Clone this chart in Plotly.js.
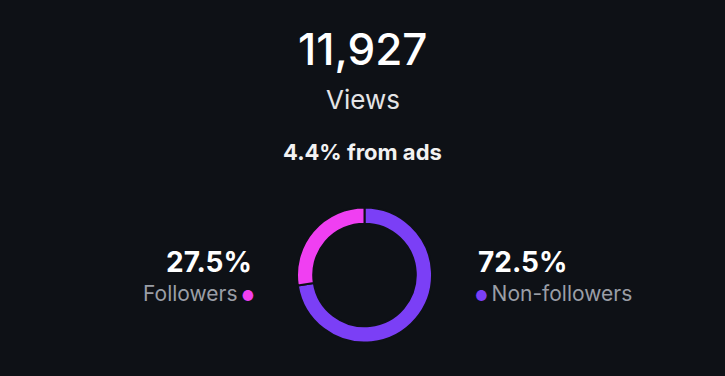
<!DOCTYPE html>
<html>
<head>
<meta charset="utf-8">
<script src="https://cdn.plot.ly/plotly-3.0.1.min.js"></script>
<style>html,body{margin:0;padding:0;background:#0e1116;}#chart{width:725px;height:376px;}</style>
</head>
<body>
<div id="chart"></div>
<script>
const categories = ["Followers", "Non-followers"];
const shares = [27.5, 72.5];
const sliceColors = ["#f03ff2", "#7b3ff6"];
const totalViews = "11,927";
const viewsLabel = "Views";
const adsNote = "4.4% from ads";

const W = 725, H = 376;
const px = x => x / W;
const py = y => 1 - y / H;

// drawn order: Non-followers first so Followers ends at 12 o'clock on the left side
const order = [1, 0];
const trace = {
  type: "pie",
  labels: order.map(i => categories[i]),
  values: order.map(i => shares[i]),
  sort: false,
  direction: "clockwise",
  hole: 0.76,
  textinfo: "none",
  hoverinfo: "label+percent",
  marker: {colors: order.map(i => sliceColors[i]), line: {color: "#0e1116", width: 2}},
  domain: {x: [px(297), px(432)], y: [py(343), py(207)]},
  showlegend: false
};

const font = "Inter, 'Noto Sans', sans-serif";
const annotations = [
  {text: totalViews, x: 0.5, y: py(49), font: {size: 44, color: "#ffffff", family: font, weight: 500}},
  {text: viewsLabel, x: 0.5, y: py(99), font: {size: 26, color: "#e4e4e6", family: font}},
  {text: "<b>" + adsNote + "</b>", x: 0.5, y: py(152), font: {size: 22, color: "#f2f2f2", family: font}},
  {text: "<b>" + shares[0].toFixed(1) + "%</b>", x: px(254), xanchor: "right", y: py(262), font: {size: 28, color: "#ffffff", family: font}},
  {text: categories[0] + "<span style='color:" + sliceColors[0] + ";font-size:14px'> ●</span>", x: px(256), xanchor: "right", y: py(293), font: {size: 21, color: "#9a9ea6", family: font}},
  {text: "<b>" + shares[1].toFixed(1) + "%</b>", x: px(476), xanchor: "left", y: py(262), font: {size: 28, color: "#ffffff", family: font}},
  {text: "<span style='color:" + sliceColors[1] + ";font-size:14px'>●</span>\u2009" + categories[1], x: px(473), xanchor: "left", y: py(293), font: {size: 21, color: "#9a9ea6", family: font}}
].map(a => Object.assign({xref: "paper", yref: "paper", showarrow: false, yanchor: "middle", xanchor: "center"}, a));

const layout = {
  width: W, height: H,
  margin: {l: 0, r: 0, t: 0, b: 0},
  paper_bgcolor: "#0e1116",
  plot_bgcolor: "#0e1116",
  annotations: annotations
};

Plotly.newPlot("chart", [trace], layout, {displayModeBar: false, staticPlot: true});
</script>
</body>
</html>
